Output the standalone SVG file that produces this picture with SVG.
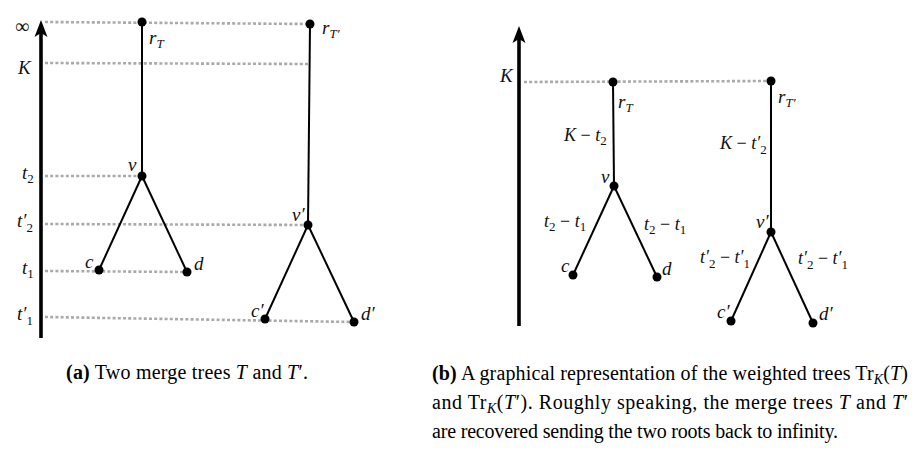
<svg xmlns="http://www.w3.org/2000/svg" width="923" height="452" viewBox="0 0 923 452">
<style>
.bg{fill:#fff}
.axis{stroke:#000;stroke-width:3.6;fill:none}
.head{fill:#000}
.dot{stroke:#aaa;stroke-width:2.6;stroke-dasharray:3 2.2;fill:none}
.edge{stroke:#000;stroke-width:2;fill:none}
.node{fill:#000}
.lbl{font-family:"Liberation Serif","Times New Roman",serif;font-style:italic;font-size:19px;fill:#111}
.wl{font-size:18px}
.up{font-family:"Liberation Serif","Times New Roman",serif;font-style:normal;font-size:20px;fill:#111}
.sub{font-size:13px}
.rm{font-style:normal}
.cap{font-family:"Liberation Serif","Times New Roman",serif;font-size:20px;fill:#000}
.b{font-weight:bold}
.i{font-style:italic}
</style>
<rect class="bg" width="923" height="452"/>

<g id="guides">
<line class="dot" x1="45" y1="22" x2="310" y2="24"/>
<line class="dot" x1="45" y1="63" x2="310" y2="64"/>
<line class="dot" x1="45" y1="176" x2="142" y2="176"/>
<line class="dot" x1="45" y1="224" x2="308" y2="225"/>
<line class="dot" x1="45" y1="271" x2="187" y2="272"/>
<line class="dot" x1="45" y1="317" x2="354" y2="322"/>
<line class="dot" x1="524" y1="82" x2="771" y2="81"/>
</g>

<g id="axis-a">
<line class="axis" x1="41" y1="30" x2="41" y2="338"/>
<path class="head" d="M41,20 L47.5,37 L41,33 L34.5,37 Z"/>
<text class="up" x="15" y="33">∞</text>
<text class="lbl" x="18" y="74">K</text>
<text class="lbl" x="22" y="179">t<tspan class="sub rm" dy="4">2</tspan></text>
<text class="lbl" x="17" y="227">t′<tspan class="sub rm" dy="5">2</tspan></text>
<text class="lbl" x="22" y="274">t<tspan class="sub rm" dy="4">1</tspan></text>
<text class="lbl" x="17" y="320">t′<tspan class="sub rm" dy="5">1</tspan></text>
</g>

<g id="axis-b">
<line class="axis" x1="519" y1="36" x2="519" y2="326"/>
<path class="head" d="M519,26 L525.5,43 L519,39 L512.5,43 Z"/>
<text class="lbl" x="500" y="82">K</text>
</g>

<g id="connectors">
<line class="edge" x1="142" y1="22" x2="142" y2="176"/>
<line class="edge" x1="142" y1="176" x2="99" y2="270"/>
<line class="edge" x1="142" y1="176" x2="187" y2="272"/>
<line class="edge" x1="310" y1="24" x2="308" y2="225"/>
<line class="edge" x1="308" y1="225" x2="265" y2="319"/>
<line class="edge" x1="308" y1="225" x2="354" y2="322"/>
<line class="edge" x1="613" y1="82" x2="614" y2="186"/>
<line class="edge" x1="614" y1="186" x2="573" y2="275"/>
<line class="edge" x1="614" y1="186" x2="657" y2="277"/>
<line class="edge" x1="771" y1="81" x2="771" y2="232"/>
<line class="edge" x1="771" y1="232" x2="731" y2="321"/>
<line class="edge" x1="771" y1="232" x2="813" y2="323"/>
<text class="lbl wl" x="564" y="141">K<tspan class="rm"> − </tspan>t<tspan class="sub rm" dy="4">2</tspan></text>
<text class="lbl wl" x="720" y="149">K<tspan class="rm"> − </tspan>t′<tspan class="sub rm" dy="5">2</tspan></text>
<text class="lbl wl" x="544" y="227">t<tspan class="sub rm" dy="4">2</tspan><tspan class="rm" dy="-4"> − </tspan>t<tspan class="sub rm" dy="4">1</tspan></text>
<text class="lbl wl" x="644" y="230">t<tspan class="sub rm" dy="4">2</tspan><tspan class="rm" dy="-4"> − </tspan>t<tspan class="sub rm" dy="4">1</tspan></text>
<text class="lbl wl" x="700" y="263">t′<tspan class="sub rm" dy="5">2</tspan><tspan class="rm" dy="-5"> − </tspan>t′<tspan class="sub rm" dy="5">1</tspan></text>
<text class="lbl wl" x="798" y="264">t′<tspan class="sub rm" dy="5">2</tspan><tspan class="rm" dy="-5"> − </tspan>t′<tspan class="sub rm" dy="5">1</tspan></text>
</g>

<g id="a-rT"><circle class="node" cx="142" cy="22" r="4.5"/><text class="lbl" x="149" y="44">r<tspan class="sub" dy="4">T</tspan></text></g>
<g id="a-rT2"><circle class="node" cx="310" cy="24" r="4.5"/><text class="lbl" x="322" y="34">r<tspan class="sub" dy="4">T′</tspan></text></g>
<g id="a-v"><circle class="node" cx="142" cy="176" r="4.5"/><text class="lbl" x="128" y="171">v</text></g>
<g id="a-v2"><circle class="node" cx="308" cy="225" r="4.5"/><text class="lbl" x="292" y="221">v′</text></g>
<g id="a-c"><circle class="node" cx="99" cy="270" r="4.5"/><text class="lbl" x="85" y="268">c</text></g>
<g id="a-d"><circle class="node" cx="187" cy="272" r="4.5"/><text class="lbl" x="194" y="270">d</text></g>
<g id="a-c2"><circle class="node" cx="265" cy="319" r="4.5"/><text class="lbl" x="251" y="317">c′</text></g>
<g id="a-d2"><circle class="node" cx="354" cy="322" r="4.5"/><text class="lbl" x="361" y="320">d′</text></g>

<g id="b-rT"><circle class="node" cx="613" cy="82" r="4.5"/><text class="lbl" x="618" y="108">r<tspan class="sub" dy="4">T</tspan></text></g>
<g id="b-rT2"><circle class="node" cx="771" cy="81" r="4.5"/><text class="lbl" x="778" y="103">r<tspan class="sub" dy="4">T′</tspan></text></g>
<g id="b-v"><circle class="node" cx="614" cy="186" r="4.5"/><text class="lbl" x="601" y="183">v</text></g>
<g id="b-v2"><circle class="node" cx="771" cy="232" r="4.5"/><text class="lbl" x="756" y="228">v′</text></g>
<g id="b-c"><circle class="node" cx="573" cy="275" r="4.5"/><text class="lbl" x="561" y="272">c</text></g>
<g id="b-d"><circle class="node" cx="657" cy="277" r="4.5"/><text class="lbl" x="662" y="275">d</text></g>
<g id="b-c2"><circle class="node" cx="731" cy="321" r="4.5"/><text class="lbl" x="717" y="318">c′</text></g>
<g id="b-d2"><circle class="node" cx="813" cy="323" r="4.5"/><text class="lbl" x="819" y="320">d′</text></g>

<g id="captions">
<text class="cap" x="66" y="379" textLength="242" lengthAdjust="spacing"><tspan class="b">(a)</tspan> Two merge trees <tspan class="i">T</tspan> and <tspan class="i">T</tspan>′.</text>
<text class="cap" x="432" y="380" textLength="476" lengthAdjust="spacing"><tspan class="b">(b)</tspan> A graphical representation of the weighted trees Tr<tspan class="i" style="font-size:14px" dy="4">K</tspan><tspan dy="-4">(</tspan><tspan class="i">T</tspan>)</text>
<text class="cap" x="432" y="409" textLength="476" lengthAdjust="spacing">and Tr<tspan class="i" style="font-size:14px" dy="4">K</tspan><tspan dy="-4">(</tspan><tspan class="i">T</tspan>′).  Roughly speaking, the merge trees <tspan class="i">T</tspan> and <tspan class="i">T</tspan>′</text>
<text class="cap" x="432" y="438" textLength="406" lengthAdjust="spacing">are recovered sending the two roots back to infinity.</text>
</g>
</svg>
